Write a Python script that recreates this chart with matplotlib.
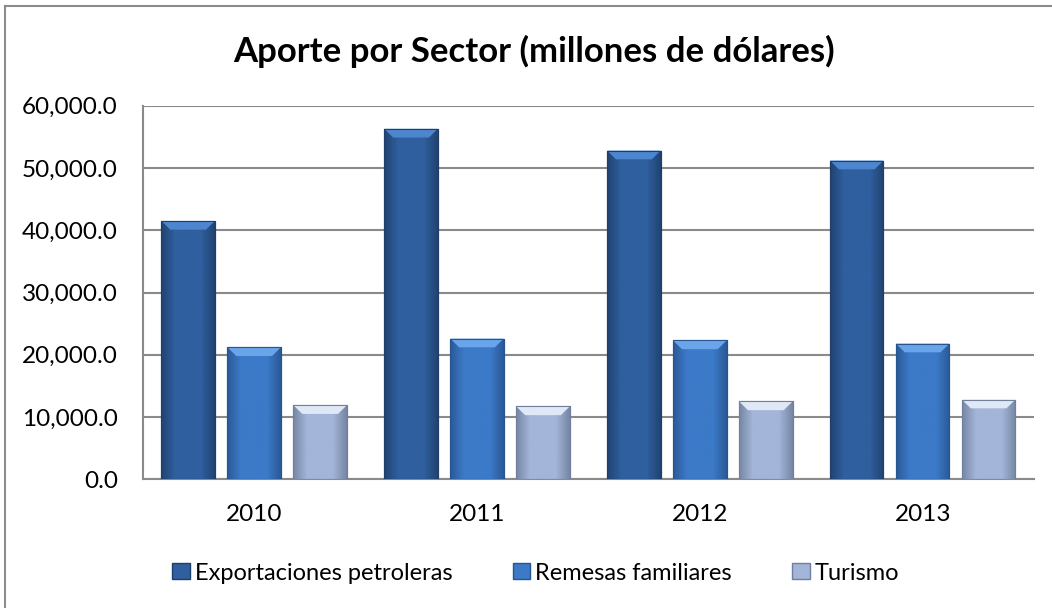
import numpy as np
import matplotlib
matplotlib.use("Agg")
import matplotlib.pyplot as plt
from matplotlib.colors import LinearSegmentedColormap
from matplotlib.patches import Rectangle, Polygon
from matplotlib.lines import Line2D

years = ["2010", "2011", "2012", "2013"]
series = ["Exportaciones petroleras", "Remesas familiares", "Turismo"]
exportaciones = [41500, 56300, 52800, 51200]
remesas = [21200, 22600, 22300, 21800]
turismo = [11900, 11700, 12500, 12800]
yticks = [0, 10000, 20000, 30000, 40000, 50000, 60000]

colors = ["#2f5f9e", "#3c7ac8", "#a3b5d8"]
edges = ["#1f3f6a", "#285490", "#6f7f9c"]
tops = ["#4d86cf", "#6aa5ea", "#dfe8f6"]

plt.rcParams["font.family"] = ["Lato", "DejaVu Sans"]

fig = plt.figure(figsize=(10.52, 6.08), dpi=100)
# outer chart frame (only left/top edges are inside the image)
fig.add_artist(Line2D([5 / 1052, 5 / 1052], [0, 1 - 6 / 608], transform=fig.transFigure,
                      color="#8c8c8c", linewidth=1.5))
fig.add_artist(Line2D([5 / 1052, 1], [1 - 6 / 608, 1 - 6 / 608], transform=fig.transFigure,
                      color="#8c8c8c", linewidth=1.5))

ax = fig.add_axes([0.1357, 0.2117, 0.8473, 0.6143])

x = np.arange(len(years))
width = 0.24
step = 0.296
values = [exportaciones, remesas, turismo]
bev_x = 0.04
bev_y = 1400

for i, (vals, c, ec, tc) in enumerate(zip(values, colors, edges, tops)):
    bars = ax.bar(x + (i - 1) * step, vals, width, color=c, edgecolor=ec,
                  linewidth=0.8, zorder=3, label=series[i])
    cmap = LinearSegmentedColormap.from_list("g", [ec, c, c, c, ec])
    for b in bars:
        x0, y0 = b.get_x(), b.get_y()
        w, h = b.get_width(), b.get_height()
        grad = np.linspace(0, 1, 64).reshape(1, -1)
        im = ax.imshow(grad, extent=[x0, x0 + w, y0, y0 + h], aspect="auto",
                       cmap=cmap, zorder=3.5, alpha=0.85)
        im.set_clip_path(b)
        # bevelled top face
        ax.add_patch(Polygon([(x0, y0 + h), (x0 + w, y0 + h),
                              (x0 + w - bev_x, y0 + h - bev_y), (x0 + bev_x, y0 + h - bev_y)],
                             closed=True, facecolor=tc, edgecolor="none", zorder=4))
        ax.add_patch(Rectangle((x0, y0), w, h, fill=False, edgecolor=ec,
                               linewidth=0.8, zorder=4.5))

ax.set_xlim(-0.5, len(years) - 0.5)
ax.set_ylim(0, 60000)
ax.set_yticks(yticks)
ax.set_yticklabels([f"{v:,.1f}" for v in yticks])
ax.set_xticks(x)
ax.set_xticklabels(years)
ax.tick_params(axis="both", labelsize=17.5, colors="#000000", length=0)
ax.tick_params(axis="y", pad=18)
ax.tick_params(axis="x", pad=18)
ax.yaxis.grid(True, color="#8a8a8a", linewidth=1.5, zorder=0)
ax.set_axisbelow(True)
for s in ["top", "right"]:
    ax.spines[s].set_visible(False)
for s in ["left", "bottom"]:
    ax.spines[s].set_color("#8a8a8a")
    ax.spines[s].set_linewidth(1.5)

fig.text(0.508, 1 - 51 / 608, "Aporte por Sector (millones de dólares)", ha="center", va="center",
         fontsize=25, fontweight="bold")

handles = [Rectangle((0, 0), 1, 1, facecolor=c, edgecolor=ec) for c, ec in zip(colors, edges)]
fig.legend(handles, series, loc="center left", bbox_to_anchor=(172 / 1052, 1 - 573 / 608), ncol=3,
           frameon=False, fontsize=17, handlelength=0.76, handleheight=0.64,
           handletextpad=0.2, columnspacing=2.55, borderpad=0, borderaxespad=0)

fig.savefig("out.png", dpi=100)
